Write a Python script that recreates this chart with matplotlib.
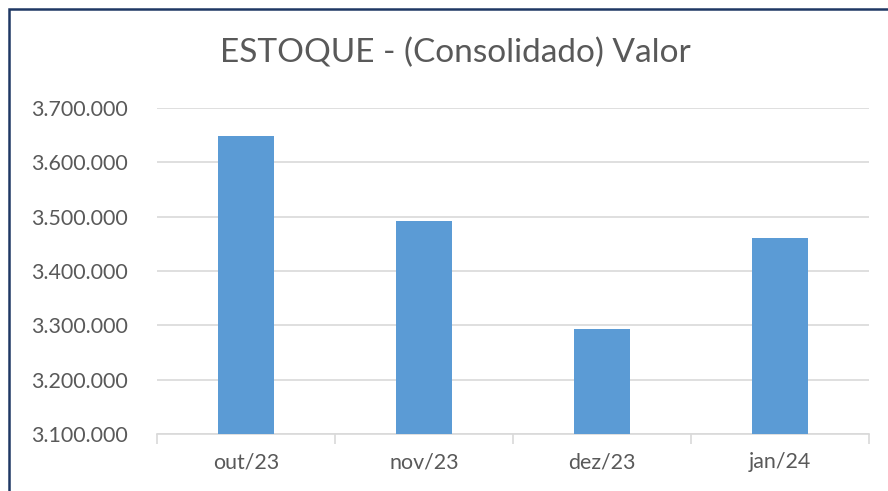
import matplotlib
matplotlib.use("Agg")
import matplotlib.pyplot as plt
from matplotlib.ticker import FuncFormatter, FixedLocator
from matplotlib.patches import Rectangle

categories = ["out/23", "nov/23", "dez/23", "jan/24"]
values = [3648600, 3492100, 3293200, 3461300]
title = "ESTOQUE - (Consolidado) Valor"
yticks = [3100000, 3200000, 3300000, 3400000, 3500000, 3600000, 3700000]

plt.rcParams['font.family'] = ['Lato', 'DejaVu Sans']

fig = plt.figure(figsize=(8.88, 4.91), dpi=100)
ax = fig.add_axes([157/888, 1-434/491, (869-157)/888, (434-108)/491])

x = list(range(len(categories)))
ax.bar(x, values, width=0.314, color="#5B9BD5", zorder=3)

ax.set_xlim(-0.5, len(categories) - 0.5)
ax.set_ylim(yticks[0], yticks[-1])
ax.set_yticks(yticks)
ax.yaxis.set_major_formatter(FuncFormatter(lambda v, p: f"{int(v):,}".replace(",", ".")))
ax.set_xticks(x)
ax.set_xticklabels(categories)
ax.xaxis.set_minor_locator(FixedLocator([i - 0.5 for i in range(len(categories) + 1)]))

ax.grid(axis="y", color="#D9D9D9", linewidth=1.2, zorder=0)
for s in ["top", "right", "left"]:
    ax.spines[s].set_visible(False)
ax.spines["bottom"].set_color("#D9D9D9")
ax.spines["bottom"].set_linewidth(1.2)

ax.tick_params(axis="y", length=0, labelsize=15.4, labelcolor="#595959", pad=21)
ax.tick_params(axis="x", which="major", length=0, labelsize=15.4, labelcolor="#595959", pad=13)
ax.tick_params(axis="x", which="minor", length=7, color="#D9D9D9", width=1.2)

fig.text(455/888, 1-53/491, title, ha="center", va="center", fontsize=24, color="#595959")

fig.patches.append(Rectangle((9/888, -0.1), 1.0, 1 - 9/491 + 0.1, transform=fig.transFigure,
                             fill=False, edgecolor="#1F3864", linewidth=1.8))

fig.savefig("out.png", dpi=100)
